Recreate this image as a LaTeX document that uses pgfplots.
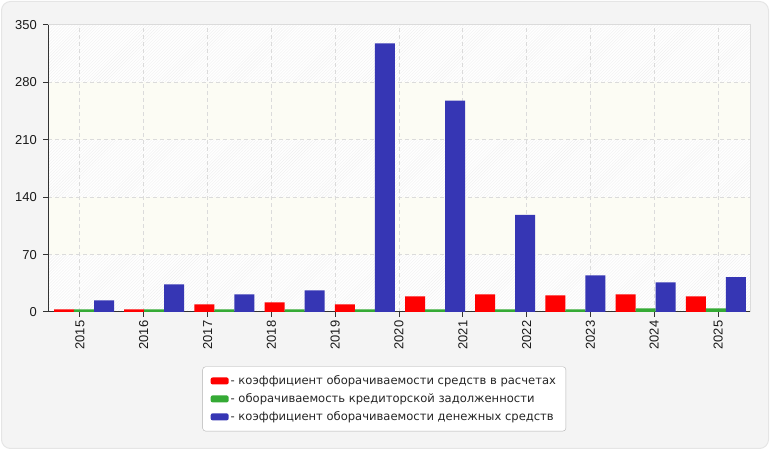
\documentclass[border=0pt]{standalone}
\usepackage{fontspec}
\setmainfont{DejaVu Sans}
\newfontfamily\tickfont{Liberation Sans}
\usepackage{pgfplots}
\pgfplotsset{compat=1.18}
\usetikzlibrary{patterns}
\definecolor{cred}{HTML}{FF0000}
\definecolor{cgreen}{HTML}{35AA35}
\definecolor{cblue}{HTML}{3636B4}
\definecolor{band}{HTML}{FCFCF4}
\definecolor{frame}{HTML}{F4F4F4}
\begin{document}
\begin{tikzpicture}[x=1bp,y=1bp]
\path (0,0) rectangle (770,450);
\begin{axis}[
  set layers, clip=false,
  at={(48bp,138bp)}, anchor=south west,
  scale only axis, width=702bp, height=287bp,
  xmin=0, xmax=11, ymin=0, ymax=350,
  ytick={0,70,140,210,280,350},
  xtick={0.5,1.5,2.5,3.5,4.5,5.5,6.5,7.5,8.5,9.5,10.5},
  xticklabels={2015,2016,2017,2018,2019,2020,2021,2022,2023,2024,2025},
  xticklabel style={rotate=90, anchor=east, inner sep=3.5bp},
  yticklabel style={inner sep=6bp},
  ticklabel style={font=\tickfont\fontsize{13}{15}\selectfont, text=black!90},
  /pgf/number format/assume math mode=true,
  axis lines*=left,
  axis line style={-, draw=black!80, line width=1bp},
  tick align=outside, major tick length=5bp,
  tick style={draw=black!80, line width=1bp},
  grid=major,
  major grid style={draw=black!14, dash pattern=on 4bp off 3bp, line width=1bp},
  legend style={at={(axis description cs:0.479,-0.19)}, anchor=north,
    draw=black!30, rounded corners=3bp, fill=white,
    font=\fontsize{11.6}{14}\selectfont, text=black!85,
    inner xsep=8bp, inner ysep=7bp, row sep=3.5bp},
  legend cell align=left,
  legend image code/.code={\fill[#1, rounded corners=2bp] (0bp,-3.5bp) rectangle (18bp,3.5bp);},
]
\begin{pgfonlayer}{axis background}
\draw[fill=frame, draw=black!10, line width=1bp, rounded corners=9bp]
  ([shift={(-46.5bp,-136.5bp)}]rel axis cs:0,0) rectangle ([shift={(18.5bp,23.5bp)}]rel axis cs:1,1);
\fill[white] (axis cs:0,0) rectangle (axis cs:11,350);
\fill[pattern=north east lines, pattern color=black!6] (axis cs:0,0) rectangle (axis cs:11,350);
\fill[band] (axis cs:0,70) rectangle (axis cs:11,140);
\fill[band] (axis cs:0,210) rectangle (axis cs:11,280);
\end{pgfonlayer}
\draw[black!14, line width=1bp] (rel axis cs:0,1) -- (rel axis cs:1,1) -- (rel axis cs:1,0);
\addplot[ybar, bar width=0.3134, bar shift=0pt, fill=cred, draw=none] coordinates {
(0.2507,3.2) (1.3507,3.2) (2.4507,9.3) (3.5507,11.8) (4.6507,9.3)
(5.7507,19.1) (6.8507,21.5) (7.9507,20.3) (9.0507,21.5) (10.1507,19.1)};
\addlegendentry{- коэффициент оборачиваемости средств в расчетах}
\addplot[ybar, bar width=0.3134, bar shift=0pt, fill=cgreen, draw=none] coordinates {
(0.564,3.2) (1.664,3.2) (2.764,3.2) (3.864,3.2) (4.964,3.2)
(6.064,3.2) (7.164,3.2) (8.264,3.2) (9.364,4.4) (10.464,4.4)};
\addlegendentry{- оборачиваемость кредиторской задолженности}
\addplot[ybar, bar width=0.3134, bar shift=0pt, fill=cblue, draw=none] coordinates {
(0.8775,14.2) (1.9775,33.8) (3.0775,21.5) (4.1775,26.4) (5.2775,327.7)
(6.3775,257.9) (7.4775,118.3) (8.5775,44.8) (9.6775,36.2) (10.7775,42.4)};
\addlegendentry{- коэффициент оборачиваемости денежных средств}
\end{axis}
\end{tikzpicture}
\end{document}
